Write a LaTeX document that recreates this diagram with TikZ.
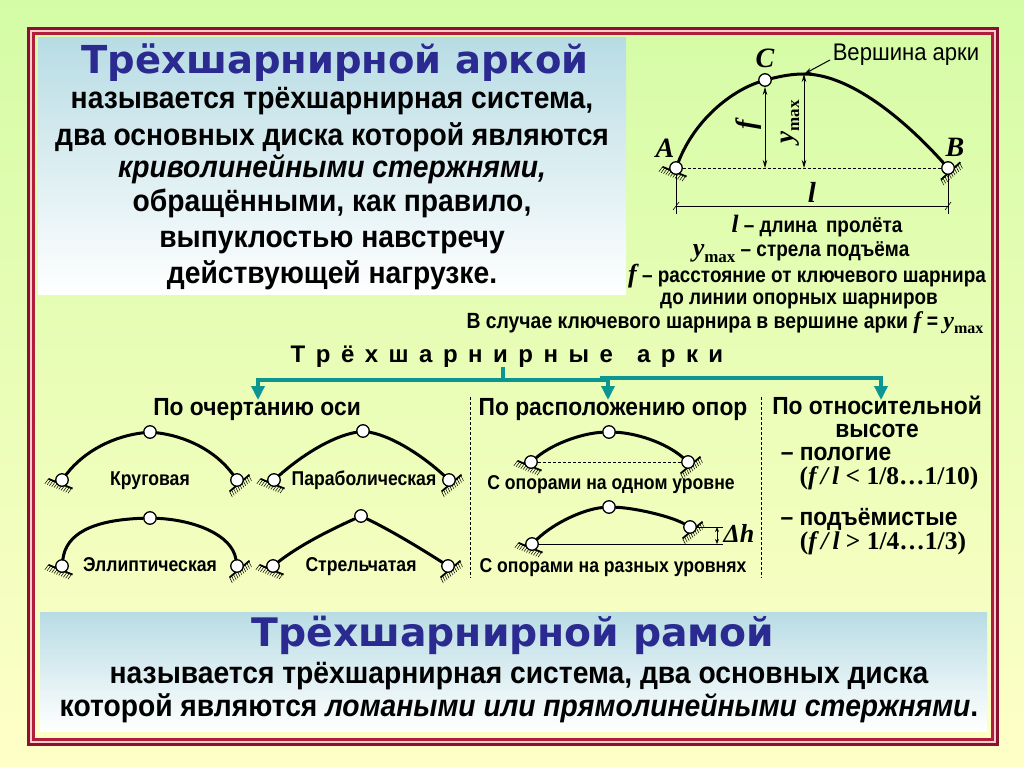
\documentclass[tikz,border=0pt]{standalone}
\usepackage{fontspec}
\setmainfont{Liberation Sans}
\newfontfamily\headfont{DejaVu Sans}
\newfontfamily\bodyfont[FakeStretch=0.92]{Liberation Sans}
\newfontfamily\labelfont[FakeStretch=0.88]{Liberation Sans}
\newfontfamily\letterfont{Liberation Serif}
\usetikzlibrary{arrows.meta, positioning, backgrounds, calc}
\definecolor{FieldGreen}{RGB}{212, 252, 166}
\definecolor{FieldCream}{RGB}{255, 255, 200}
\definecolor{BorderDark}{RGB}{140, 16, 48}
\definecolor{BorderRed}{RGB}{176, 30, 60}
\definecolor{BorderPink}{RGB}{246, 205, 205}
\definecolor{PanelBlue}{RGB}{184, 220, 228}
\definecolor{HeadBlue}{RGB}{42, 42, 144}
\definecolor{BranchTeal}{RGB}{12, 150, 146}
\newcommand{\letter}[1]{{\letterfont\bfseries\itshape #1}}
\newcommand{\ymax}[1]{\letter{y}\raisebox{-.22em}{\letterfont\bfseries\fontsize{#1}{#1}\selectfont max}}
\newcommand{\lgap}{\kern10.5pt}
\newcommand{\support}[2]{%
    \begin{scope}[on background layer, shift={(#1)}, rotate=#2]
        \draw[line width=1.8pt] (-13,4) -- (13,4);
        \foreach \t in {-13,-10.5,...,12} {\draw[line width=.5pt] (\t,4) -- (\t-1.5,10);}
    \end{scope}}
\begin{document}
\begin{tikzpicture}[
        x=1pt, y=-1pt,
        node distance=10pt and 10pt,
        hinge/.style={circle, draw=black, fill=white, line width=1.3pt, minimum size=12.5pt, inner sep=0pt},
        arch/.style={line width=3pt, line cap=round},
        dim/.style={{Stealth[length=8pt,width=4.5pt]}-{Stealth[length=8pt,width=4.5pt]}, line width=1pt},
        thinline/.style={line width=.6pt},
        baseline/.style={densely dashed, line width=.8pt},
        branch/.style={line width=3.4pt, BranchTeal},
        branchhead/.style={branch, -{Triangle[length=14pt,width=13pt]}},
        headline/.style={font=\headfont\bfseries\fontsize{38.5}{38}\selectfont, text=HeadBlue, inner sep=0pt},
        bodyline/.style={font=\bodyfont\bfseries\fontsize{30.7}{31}\selectfont, inner sep=0pt, text height=19pt, text depth=7pt},
        note/.style={font=\labelfont\bfseries\fontsize{21.5}{22}\selectfont, inner sep=0pt, text height=13pt, text depth=4pt},
        tag/.style={font=\labelfont\bfseries\fontsize{20}{20}\selectfont, inner sep=0pt, text height=14pt, text depth=5pt},
        sortname/.style={font=\bodyfont\bfseries\fontsize{24.8}{25}\selectfont, inner sep=0pt, text height=15pt, text depth=4pt},
        ratio/.style={font=\letterfont\bfseries\fontsize{25.5}{26}\selectfont, inner sep=0pt, text height=15pt, text depth=4pt},
        point/.style={font=\letterfont\bfseries\itshape\fontsize{28}{28}\selectfont, inner sep=0pt}
    ]
    \useasboundingbox (0,0) rectangle (1024,767);
    % Background and frame
    \begin{scope}[on background layer]
        \shade[top color=FieldGreen, bottom color=FieldCream] (0,0) rectangle (1024,767);
        \draw[BorderDark, line width=3pt] (28.5,28.5) rectangle (997.5,744.5);
        \draw[BorderPink, line width=1.5pt] (31,31) rectangle (995,742);
        \draw[BorderRed, line width=3pt] (33.5,33.5) rectangle (992,739.5);
        \shade[top color=PanelBlue, bottom color=white] (38,38) rectangle (626,294);
        \shade[top color=PanelBlue, bottom color=white] (40,612) rectangle (987,731);
    \end{scope}

    % Definition of the arch
    \node[headline] (archhead) at (335,63) {Трёхшарнирной аркой};
    \node[bodyline] (archa) at (332,103) {называется трёхшарнирная система,};
    \node[bodyline, below=10pt of archa] (archb) {два основных диска которой являются};
    \node[bodyline, below=6pt of archb] (archc) {\itshape криволинейными стержнями,};
    \node[bodyline, below=7pt of archc] (archd) {обращёнными, как правило,};
    \node[bodyline, below=10pt of archd] (arche) {выпуклостью навстречу};
    \node[bodyline, below=9pt of arche] (archf) {действующей нагрузке.};

    % Main arch
    \node[hinge] (A) at (676,168) {};
    \node[hinge] (C) at (765,80) {};
    \node[hinge] (B) at (948,168) {};
    \coordinate (apex) at (804,74);
    \coordinate (lA) at (676,206);
    \coordinate (lB) at (948,206);
    \support{A}{-22}
    \support{B}{42}
    \draw[arch] (A) .. controls (695,120) and (730,92) .. (C);
    \draw[arch] (C) .. controls (782,76) and (792,74) .. (apex) .. controls (850,74) and (905,120) .. (B);
    \draw[baseline] (A) -- (B);
    \draw[dim] (C) -- (C |- A);
    \draw[dim] (apex) -- (apex |- A);
    \draw[thinline] (A) -- (676,214);
    \draw[thinline] (B) -- (948,214);
    \draw[thinline] (lA) -- (lB);
    \draw[thinline] ($(lA)+(-3,4)$) -- ($(lA)+(3,-4)$);
    \draw[thinline] ($(lB)+(-3,4)$) -- ($(lB)+(3,-4)$);
    \node[point] (Alabel) at (665,148) {A};
    \node[point] (Blabel) at (955,147) {B};
    \node[point] (Clabel) at (765,58) {C};
    \node[point, rotate=90] (flabel) at (749,125) {f};
    \node[rotate=90, inner sep=0pt, font=\fontsize{27}{27}\selectfont] (ymaxlabel) at (790,122) {\ymax{17}};
    \node[point, font=\letterfont\bfseries\itshape\fontsize{29}{29}\selectfont] (llabel) at (812,192) {l};
    \node[font=\bodyfont\fontsize{24}{24}\selectfont, inner sep=0pt] (toplabel) at (906,55) {Вершина арки};
    \draw[-{Stealth[length=8pt,width=4.5pt]}, line width=1pt] (830,60) -- (apex);

    % Notes on the arch
    \node[note] (notel) at (817,228) {\letter{\fontsize{25}{25}\selectfont l} – длина\, пролёта};
    \node[note] (notey) at (801,252) {{\fontsize{26}{26}\selectfont\ymax{17}} – стрела подъёма};
    \node[note] (notef) at (807,278) {\letter{\fontsize{26}{26}\selectfont f} – расстояние от ключевого шарнира};
    \node[note] (noteg) at (799,300) {до линии опорных шарниров};
    \node[note, font=\labelfont\bfseries\fontsize{22}{22}\selectfont] (noteh) at (725,324) {В случае ключевого шарнира в вершине арки \letter{\fontsize{24}{24}\selectfont f} = {\fontsize{24}{24}\selectfont\ymax{16}}};

    % Classification
    \node[font=\bfseries\fontsize{24}{24}\selectfont, inner sep=0pt] (family) at (507,357) {Т\lgap р\lgap ё\lgap х\lgap ш\lgap а\lgap р\lgap н\lgap и\lgap р\lgap н\lgap ы\lgap е\quad а\lgap р\lgap к\lgap и};
    \node[sortname] (byaxis) at (257,410) {По очертанию оси};
    \node[sortname] (bysupport) at (613,410) {По расположению опор};
    \node[sortname] (byheight) at (877,409) {По относительной};
    \node[sortname] (byheightb) at (877,432) {высоте};
    \coordinate (trunk) at (503,367);
    \coordinate (fork) at (503,380);
    \coordinate (forkb) at (600,378);
    \coordinate (headaxis) at (258,400);
    \coordinate (headsupport) at (608,400);
    \coordinate (headheight) at (881,400);
    \draw[branch] (trunk) -- (fork);
    \draw[branchhead] (fork) -| (headaxis);
    \draw[branchhead] (fork) -| (headsupport);
    \draw[branchhead] (forkb) -| (headheight);
    \draw[densely dashed, line width=.8pt] (470,397) -- (470,578);
    \draw[densely dashed, line width=.8pt] (761,397) -- (761,578);

    % Arches by the axis
    \node[hinge] (KL) at (62,480) {};
    \node[hinge] (KT) at (150,432) {};
    \node[hinge] (KR) at (237,480) {};
    \node[hinge] (PL) at (274,480) {};
    \node[hinge] (PT) at (363,431) {};
    \node[hinge] (PR) at (449,480) {};
    \node[hinge] (EL) at (62,566) {};
    \node[hinge] (ET) at (150,518) {};
    \node[hinge] (ER) at (237,566) {};
    \node[hinge] (SL) at (273,566) {};
    \node[hinge] (ST) at (361,516) {};
    \node[hinge] (SR) at (448,566) {};
    \foreach \n in {KL,PL,EL,SL} {\support{\n}{-22}}
    \foreach \n in {KR,PR,ER,SR} {\support{\n}{40}}
    \draw[arch] (KL) .. controls (85,450) and (115,436) .. (KT);
    \draw[arch] (KT) .. controls (185,436) and (215,450) .. (KR);
    \draw[arch] (PL) .. controls (300,457) and (330,437) .. (PT);
    \draw[arch] (PT) .. controls (395,437) and (425,458) .. (PR);
    \draw[arch] (EL) .. controls (66,535) and (90,520) .. (ET);
    \draw[arch] (ET) .. controls (195,520) and (232,535) .. (ER);
    \draw[arch] (SL) .. controls (300,545) and (330,530) .. (ST);
    \draw[arch] (ST) .. controls (390,530) and (420,548) .. (SR);
    \node[tag] (krug) at (150,481) {Круговая};
    \node[tag] (parab) at (364,481) {Параболическая};
    \node[tag] (ellip) at (150,567) {Эллиптическая};
    \node[tag] (strel) at (361,567) {Стрельчатая};

    % Arches by the supports
    \node[hinge] (UL) at (531,462) {};
    \node[hinge] (UT) at (609,432) {};
    \node[hinge] (UR) at (688,462) {};
    \node[hinge] (DL) at (532,544) {};
    \node[hinge] (DT) at (609,507) {};
    \node[hinge] (DR) at (690,527) {};
    \coordinate (hlow) at (723,544);
    \coordinate (hhigh) at (723,527);
    \coordinate (dlow) at (717,544);
    \coordinate (dhigh) at (717,527);
    \foreach \n in {UL,DL} {\support{\n}{-22}}
    \foreach \n in {UR,DR} {\support{\n}{40}}
    \draw[arch] (UL) .. controls (555,442) and (585,433) .. (UT);
    \draw[arch] (UT) .. controls (635,433) and (665,442) .. (UR);
    \draw[arch] (DL) .. controls (555,522) and (585,509) .. (DT);
    \draw[arch] (DT) .. controls (635,508) and (670,516) .. (DR);
    \draw[baseline] (UL) -- (UR);
    \draw[thinline] (DL) -- (hlow);
    \draw[thinline] (DR) -- (hhigh);
    \draw[{Stealth[length=5pt,width=4pt]}-{Stealth[length=5pt,width=4pt]}, line width=.7pt] (dlow) -- (dhigh);
    \node[inner sep=0pt, font=\fontsize{26}{26}\selectfont] (dh) at (739,533) {\letter{Δh}};
    \node[tag] (samelevel) at (611,485) {С опорами на одном уровне};
    \node[tag] (otherlevel) at (613,568) {С опорами на разных уровнях};

    % Arches by the height
    \node[sortname] (flat) at (836,455) {– пологие};
    \node[ratio] (flatb) at (889,479) {(\letter{f\,/\,l} < 1/8…1/10)};
    \node[sortname] (steep) at (869,520) {– подъёмистые};
    \node[ratio] (steepb) at (883,544) {(\letter{f\,/\,l} > 1/4…1/3)};

    % Definition of the frame
    \node[headline, font=\headfont\bfseries\fontsize{39.3}{39}\selectfont] (framehead) at (513,635) {Трёхшарнирной рамой};
    \node[bodyline] (framea) at (519,677) {называется трёхшарнирная система, два основных диска};
    \node[bodyline, below=7pt of framea] (frameb) {которой являются \textit{ломаными или прямолинейными стержнями}.};
\end{tikzpicture}
\end{document}
